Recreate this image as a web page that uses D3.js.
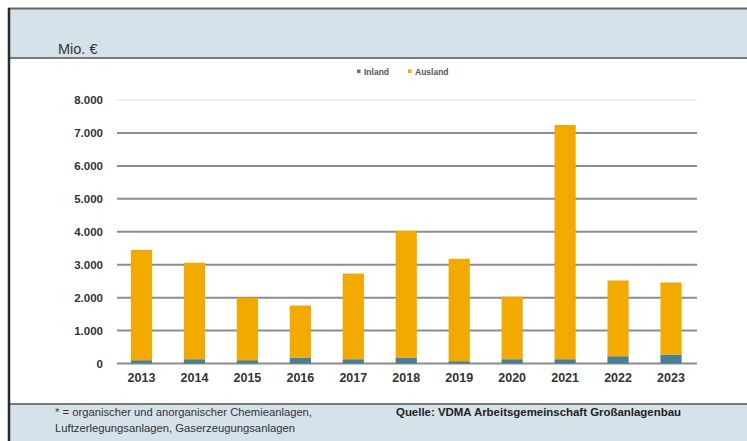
<!DOCTYPE html>
<html><head><meta charset="utf-8">
<script src="https://cdn.jsdelivr.net/npm/d3@7"></script>
<style>html,body{margin:0;padding:0;background:#fff;}svg{display:block;font-family:"Liberation Sans",Arial,sans-serif;}</style>
</head><body>
<div id="chart"></div>
<script>
const years = ["2013","2014","2015","2016","2017","2018","2019","2020","2021","2022","2023"];
const inland = [100,130,100,180,130,180,70,130,130,220,270];
const ausland = [3350,2930,1900,1580,2600,3850,3110,1900,7110,2300,2190];
const yTicks = [0,1000,2000,3000,4000,5000,6000,7000,8000];
const yTickLabels = ["0","1.000","2.000","3.000","4.000","5.000","6.000","7.000","8.000"];
const seriesNames = ["Inland","Ausland"];
const colors = ["#4a7d96","#f2a900"];

const W = 747, H = 441;
const svg = d3.select("#chart").append("svg").attr("width", W).attr("height", H);

// frame: header and footer bands
svg.append("rect").attr("x",9).attr("y",9).attr("width",W-9).attr("height",49).attr("fill","#d5e2ea");
svg.append("rect").attr("x",9).attr("y",405).attr("width",W-9).attr("height",H-405).attr("fill","#d5e2ea");
svg.append("line").attr("x1",8).attr("x2",W).attr("y1",8.5).attr("y2",8.5).attr("stroke","#666").attr("stroke-width",2);
svg.append("line").attr("x1",8).attr("x2",W).attr("y1",58).attr("y2",58).attr("stroke","#7a7a7a").attr("stroke-width",2);
svg.append("line").attr("x1",8).attr("x2",W).attr("y1",404).attr("y2",404).attr("stroke","#7a7a7a").attr("stroke-width",2);
svg.append("line").attr("x1",9).attr("x2",9).attr("y1",8).attr("y2",H).attr("stroke","#2a2a2a").attr("stroke-width",2.5);

svg.append("text").attr("x",58).attr("y",54).attr("font-size",14.5).attr("fill","#333").text("Mio. €");

const x = d3.scaleBand().domain(years).range([115,697.5]).paddingInner(0.6).paddingOuter(0.3);
const y = d3.scaleLinear().domain([0,8000]).range([363.5,100]);

// gridlines
svg.append("g").selectAll("line").data(yTicks).join("line")
  .attr("x1",117).attr("x2",697)
  .attr("y1",d=>y(d)).attr("y2",d=>y(d))
  .attr("stroke",d=>d===8000?"#efefef":"#8c8c8c")
  .attr("stroke-width",2);

// y axis labels
const yAxis = d3.axisLeft(y).tickValues(yTicks).tickSize(0).tickPadding(0)
  .tickFormat((d,i)=>yTickLabels[i]);
const ga = svg.append("g").attr("transform","translate(103,0)").call(yAxis);
ga.select(".domain").remove();
ga.selectAll("text").attr("font-size",11.5).attr("font-weight","bold").attr("fill","#333")
  .attr("font-family","'Liberation Sans',Arial,sans-serif");

// stacked bars
const rows = years.map((yr,i)=>({year:yr, Inland:inland[i], Ausland:ausland[i]}));
const stack = d3.stack().keys(seriesNames)(rows);
const bw = x.bandwidth();
svg.append("g").selectAll("g").data(stack).join("g")
  .attr("fill",(d,i)=>colors[i])
  .selectAll("rect").data(d=>d).join("rect")
  .attr("x",d=>x(d.data.year)).attr("width",bw)
  .attr("y",d=>y(d[1])).attr("height",d=>y(d[0])-y(d[1]));

// x axis labels
const xAxis = d3.axisBottom(x).tickSize(0).tickPadding(0);
const gx = svg.append("g").attr("transform","translate(0,373)").call(xAxis);
gx.select(".domain").remove();
gx.selectAll("text").attr("font-size",12.5).attr("font-weight","bold").attr("fill","#333")
  .attr("font-family","'Liberation Sans',Arial,sans-serif");

// legend
const leg = svg.append("g");
const legItems = [{n:seriesNames[0],c:colors[0],x:357},{n:seriesNames[1],c:colors[1],x:408}];
legItems.forEach(it=>{
  leg.append("rect").attr("x",it.x).attr("y",69.5).attr("width",3.5).attr("height",3.5).attr("fill",it.c);
  leg.append("text").attr("x",it.x+7).attr("y",74.5).attr("font-size",8.5).attr("font-weight","bold").attr("fill","#555").text(it.n);
});

// footer text
svg.append("text").attr("x",55).attr("y",416).attr("font-size",10).attr("fill","#333")
  .attr("textLength",257).attr("lengthAdjust","spacingAndGlyphs")
  .text("* = organischer und anorganischer Chemieanlagen,");
svg.append("text").attr("x",55).attr("y",432).attr("font-size",10).attr("fill","#333")
  .attr("textLength",240).attr("lengthAdjust","spacingAndGlyphs")
  .text("Luftzerlegungsanlagen, Gaserzeugungsanlagen");
svg.append("text").attr("x",396).attr("y",416).attr("font-size",10.5).attr("font-weight","bold").attr("fill","#222")
  .attr("textLength",285).attr("lengthAdjust","spacingAndGlyphs")
  .text("Quelle: VDMA Arbeitsgemeinschaft Großanlagenbau");
</script>
</body></html>
